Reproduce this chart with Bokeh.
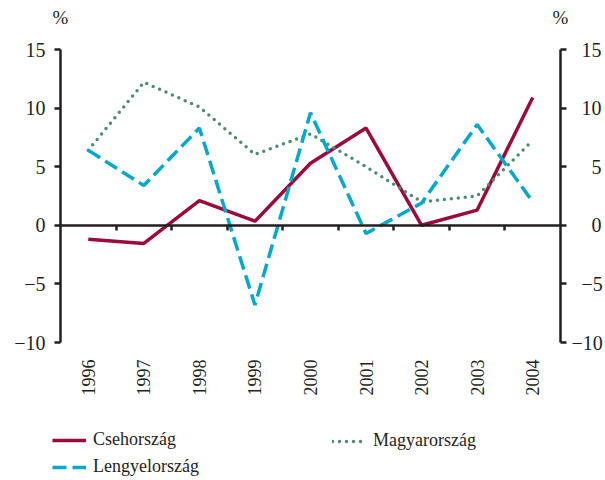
import math
from bokeh.plotting import figure
from bokeh.layouts import column
from bokeh.models import (Range1d, LinearAxis, FixedTicker, Legend, LegendItem,
                          ColumnDataSource)
from bokeh.embed import file_html
from bokeh.resources import INLINE

# ---- data ----
years = [1996, 1997, 1998, 1999, 2000, 2001, 2002, 2003, 2004]
csehorszag = [-1.2, -1.55, 2.1, 0.35, 5.3, 8.3, 0.0, 1.3, 10.9]
magyarorszag = [6.4, 12.2, 10.1, 6.05, 7.8, 5.0, 2.0, 2.5, 7.25]
lengyelorszag = [6.4, 3.4, 8.3, -6.8, 9.6, -0.7, 1.9, 8.6, 2.0]
y_ticks = [-10, -5, 0, 5, 10, 15]
series_names = ["Csehország", "Magyarország", "Lengyelország"]
unit_label = "%"

FONT = "Liberation Serif"
AXC = "#231f20"
C_RED = "#9b0a3a"
C_GREEN = "#4d8c70"
C_CYAN = "#00a9cc"

STYLES = {
    "cz": dict(line_color=C_RED, line_width=3.5),
    "hu": dict(line_color=C_GREEN, line_width=3.5, line_dash="0 7", line_cap="round"),
    "pl": dict(line_color=C_CYAN, line_width=3.5, line_dash="14 6"),
}

src = ColumnDataSource(dict(x=years, cz=csehorszag, hu=magyarorszag, pl=lengyelorszag))

x_lo, x_hi = years[0] - 0.5, years[-1] + 0.5

p = figure(width=605, height=410, output_backend="svg", toolbar_location=None,
           x_range=Range1d(x_lo, x_hi), y_range=Range1d(-10, 15),
           x_axis_location=None, y_axis_location=None,
           min_border_left=60, min_border_right=43, min_border_top=49, min_border_bottom=68)
p.outline_line_color = None
p.grid.visible = False
p.background_fill_color = None
p.border_fill_color = None
p.frame_align = False


def minus(t):
    return str(t).replace("-", "\u2212")


def style_y(ax):
    ax.ticker = FixedTicker(ticks=y_ticks)
    ax.axis_line_color = AXC
    ax.axis_line_width = 2.5
    ax.major_tick_line_color = AXC
    ax.major_tick_line_width = 2.5
    ax.major_tick_out = 6
    ax.major_tick_in = 0
    ax.minor_tick_line_color = None
    ax.major_label_text_font = FONT
    ax.major_label_text_font_size = "20px"
    ax.major_label_text_color = AXC


yl = LinearAxis()
style_y(yl)
yl.major_label_standoff = 9
yl.major_label_overrides = {t: minus(t) for t in y_ticks}
p.add_layout(yl, "left")

# right axis: labels padded with figure spaces so that they line up on the right
yr = LinearAxis()
style_y(yr)
yr.major_label_standoff = 5
yr_pad = {-10: "", -5: "\u2007", 0: "\u2007\u2007", 5: "\u2007\u2007", 10: "\u2007", 15: "\u2007"}
yr.major_label_overrides = {t: yr_pad[t] + minus(t) for t in y_ticks}
p.add_layout(yr, "right")

# "%" unit labels above both vertical axes
xa = LinearAxis()
xa.ticker = FixedTicker(ticks=[x_lo, x_hi])
xa.major_label_overrides = {x_lo: unit_label, x_hi: unit_label}
xa.axis_line_color = None
xa.major_tick_line_color = None
xa.minor_tick_line_color = None
xa.major_tick_out = 0
xa.major_label_standoff = 22
xa.major_label_text_font = FONT
xa.major_label_text_font_size = "19px"
xa.major_label_text_color = AXC
p.add_layout(xa, "above")

# zero line axis with ticks between categories
x0 = LinearAxis(fixed_location=0)
x0.ticker = FixedTicker(ticks=[y + 0.5 for y in years[:-1]])
x0.axis_line_color = AXC
x0.axis_line_width = 2.5
x0.major_tick_line_color = AXC
x0.major_tick_line_width = 2.5
x0.major_tick_out = 5
x0.major_tick_in = 0
x0.minor_tick_line_color = None
x0.major_label_text_font_size = "0px"
x0.major_label_text_color = None
p.add_layout(x0, "below")

# year labels below
xb = LinearAxis()
xb.ticker = FixedTicker(ticks=years)
xb.axis_line_color = None
xb.major_tick_line_color = None
xb.minor_tick_line_color = None
xb.major_tick_out = 0
xb.major_label_standoff = 17
xb.major_label_orientation = math.pi / 2
xb.major_label_text_font = FONT
xb.major_label_text_font_size = "18px"
xb.major_label_text_color = AXC
p.add_layout(xb, "below")

for key in ("cz", "hu", "pl"):
    p.line("x", key, source=src, **STYLES[key])

# ---- legend panel (separate figure below) ----
q = figure(width=605, height=70, output_backend="svg", toolbar_location=None,
           x_range=Range1d(0, 1), y_range=Range1d(0, 1),
           x_axis_location=None, y_axis_location=None,
           min_border_left=0, min_border_right=0, min_border_top=0, min_border_bottom=0)
q.outline_line_color = None
q.grid.visible = False
q.background_fill_color = None
q.border_fill_color = None
q.frame_align = False

# legend-only renderers: a single NaN point so nothing is drawn in the panel
leg_src = ColumnDataSource(dict(x=[float("nan")], y=[float("nan")]))
lr = {k: q.line("x", "y", source=leg_src, **STYLES[k]) for k in STYLES}


def mk_legend(items, loc):
    return Legend(items=items, location=loc, orientation="vertical",
                  padding=0, margin=0, spacing=6, border_line_color=None,
                  background_fill_color=None, background_fill_alpha=0,
                  glyph_width=34, glyph_height=20, label_height=20,
                  label_standoff=7, label_text_font=FONT, label_text_font_size="18px",
                  label_text_color=AXC, label_text_baseline="middle")


q.add_layout(mk_legend([LegendItem(label=series_names[0], renderers=[lr["cz"]]),
                        LegendItem(label=series_names[2], renderers=[lr["pl"]])], (52, 3)))
q.add_layout(mk_legend([LegendItem(label=series_names[1], renderers=[lr["hu"]])], (332, 29)))

layout = column(p, q, spacing=0)
open("out.html", "w").write(file_html(layout, INLINE))
